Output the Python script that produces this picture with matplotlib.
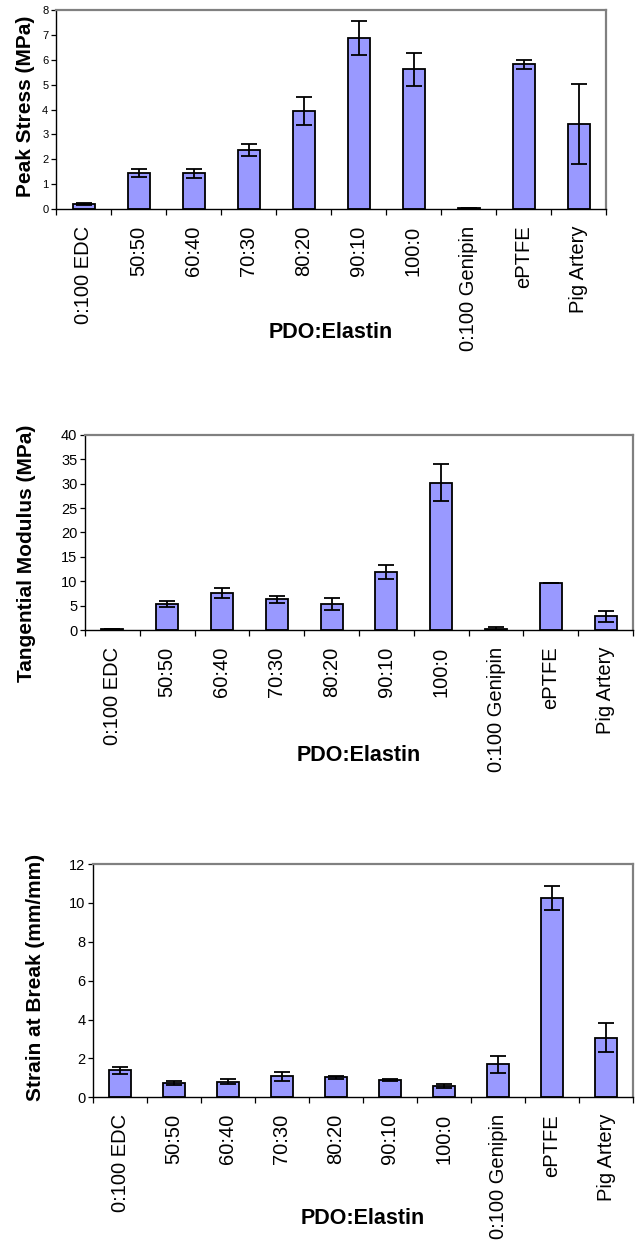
import numpy as np
import matplotlib
matplotlib.use("Agg")
import matplotlib.pyplot as plt
from matplotlib.ticker import FixedLocator, NullFormatter

plt.rcParams['font.family'] = ['Liberation Sans', 'DejaVu Sans']

categories = ['0:100 EDC', '50:50', '60:40', '70:30', '80:20', '90:10',
              '100:0', '0:100 Genipin', 'ePTFE', 'Pig Artery']

# Peak stress (MPa)
stress = [0.2, 1.45, 1.43, 2.37, 3.94, 6.88, 5.61, 0.04, 5.81, 3.41]
stress_err = [0.03, 0.17, 0.17, 0.24, 0.55, 0.68, 0.65, 0.02, 0.2, 1.6]

# Tangential modulus (MPa)
modulus = [0.2, 5.3, 7.6, 6.3, 5.4, 11.9, 30.2, 0.3, 9.6, 2.8]
modulus_err = [0.05, 0.6, 1.0, 0.7, 1.2, 1.4, 3.8, 0.3, 0.05, 1.2]

# Strain at break (mm/mm)
strain = [1.38, 0.73, 0.8, 1.07, 1.03, 0.89, 0.6, 1.7, 10.25, 3.07]
strain_err = [0.18, 0.12, 0.14, 0.22, 0.07, 0.03, 0.1, 0.45, 0.62, 0.75]

W, H = 638, 1247
fig = plt.figure(figsize=(W / 100, H / 100), dpi=100)


def px_axes(left, right, top, bottom):
    return fig.add_axes([left / W, 1 - bottom / H, (right - left) / W, (bottom - top) / H])


def draw_panel(ax, vals, errs, ymax, ystep, ylabel, ysize, ylab_xy, xlab_y):
    x = np.arange(len(categories))
    ax.bar(x, vals, width=0.4, color='#9999FF', edgecolor='black', linewidth=1.3, zorder=2)
    ax.errorbar(x, vals, yerr=errs, fmt='none', ecolor='black', elinewidth=1.3,
                capsize=6, capthick=1.3, zorder=3)
    ax.set_xlim(-0.5, len(categories) - 0.5)
    ax.set_ylim(0, ymax)
    ax.set_yticks(np.arange(0, ymax + ystep / 2, ystep))
    ax.tick_params(axis='y', direction='out', length=3.5, width=0.9, labelsize=ysize, pad=2)

    # category boundaries carry the tick marks, centres carry the labels
    ax.xaxis.set_major_locator(FixedLocator(np.arange(len(categories) + 1) - 0.5))
    ax.xaxis.set_major_formatter(NullFormatter())
    ax.xaxis.set_minor_locator(FixedLocator(x))
    ax.set_xticks(x, categories, minor=True, rotation=90)
    ax.tick_params(axis='x', which='major', direction='out', length=4.5, width=0.9)
    ax.tick_params(axis='x', which='minor', length=0, labelsize=14.5, pad=12)

    for s in ['top', 'right']:
        ax.spines[s].set_color('#808080')
        ax.spines[s].set_linewidth(1.6)
    for s in ['left', 'bottom']:
        ax.spines[s].set_color('black')
        ax.spines[s].set_linewidth(1.0)

    ax.set_ylabel(ylabel, fontsize=15, fontweight='bold', va='center', ha='center')
    ax.yaxis.set_label_coords(*ylab_xy)
    ax.set_xlabel('PDO:Elastin', fontsize=15.5, fontweight='bold', va='center')
    ax.xaxis.set_label_coords(0.5, xlab_y)


ax1 = px_axes(56, 606, 10, 209)
draw_panel(ax1, stress, stress_err, 8, 1, 'Peak Stress (MPa)', 8,
           ((26 - 56) / 550, (209 - 106) / 199), (209 - 333) / 199)

ax2 = px_axes(85, 633, 435, 630)
draw_panel(ax2, modulus, modulus_err, 40, 5, 'Tangential Modulus (MPa)', 10.5,
           ((27 - 85) / 548, (630 - 553) / 195), (630 - 755) / 195)

ax3 = px_axes(93, 633, 864, 1097.3)
draw_panel(ax3, strain, strain_err, 12, 2, 'Strain at Break (mm/mm)', 10.5,
           ((35 - 93) / 540, (1097.3 - 977) / 233.3), (1097.3 - 1218) / 233.3)

fig.savefig('out.png', dpi=100)
